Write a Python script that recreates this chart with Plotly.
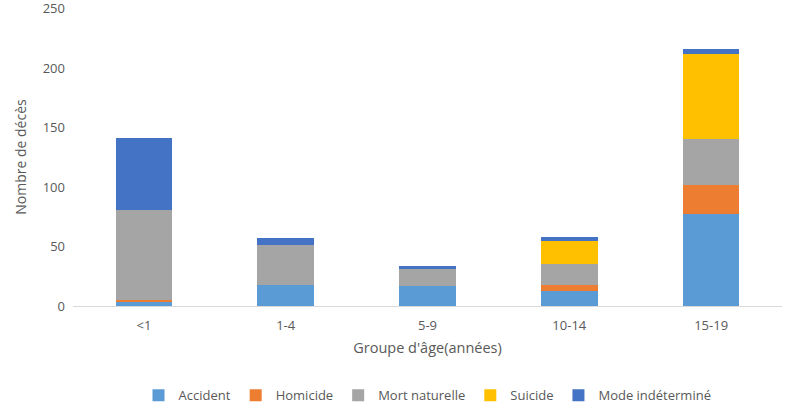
import plotly.graph_objects as go

age_groups = ["<1", "1-4", "5-9", "10-14", "15-19"]
accident = [4, 18, 17, 13, 77]
homicide = [1, 0, 0, 5, 25]
mort_naturelle = [76, 33, 14, 17, 38]
suicide = [0, 0, 0, 20, 72]
mode_indetermine = [60, 6, 3, 3, 4]

series = [
    ("Accident", accident, "#5B9BD5"),
    ("Homicide", homicide, "#ED7D31"),
    ("Mort naturelle", mort_naturelle, "#A5A5A5"),
    ("Suicide", suicide, "#FFC000"),
    ("Mode indéterminé", mode_indetermine, "#4472C4"),
]

fig = go.Figure()
for name, vals, color in series:
    fig.add_trace(go.Bar(x=age_groups, y=vals, name=name,
                         marker_color=color, marker_line_width=0))

font = "Open Sans, Noto Sans, sans-serif"
fig.update_layout(
    barmode="stack",
    bargap=0.6,
    width=790, height=419,
    margin=dict(l=73, r=8, t=8, b=113, autoexpand=False),
    plot_bgcolor="white",
    paper_bgcolor="white",
    font=dict(family=font, size=13, color="#595959"),
    legend=dict(orientation="h", x=0.5, xanchor="center",
                y=-0.30, yanchor="middle", traceorder="normal",
                font=dict(size=13, color="#595959")),
    xaxis=dict(title=dict(text="Groupe d'âge(années)", font=dict(size=14.5), standoff=10),
               showline=True, linecolor="#D9D9D9", linewidth=1.2,
               ticks="", showgrid=False, automargin=False,
               ticklabelstandoff=7),
    yaxis=dict(title=dict(text="Nombre de décès", font=dict(size=14), standoff=12),
               range=[0, 250.5], tickvals=[0, 50, 100, 150, 200, 250],
               showgrid=False, zeroline=False, automargin=False,
               showline=False, ticks="", ticklabeloverflow="allow",
               ticklabelstandoff=7),
)

# drop the default page margin so the figure sits at the window's corner
fig.write_html("out.html", config={"displayModeBar": False},
               post_script="document.body.style.margin='0';")
